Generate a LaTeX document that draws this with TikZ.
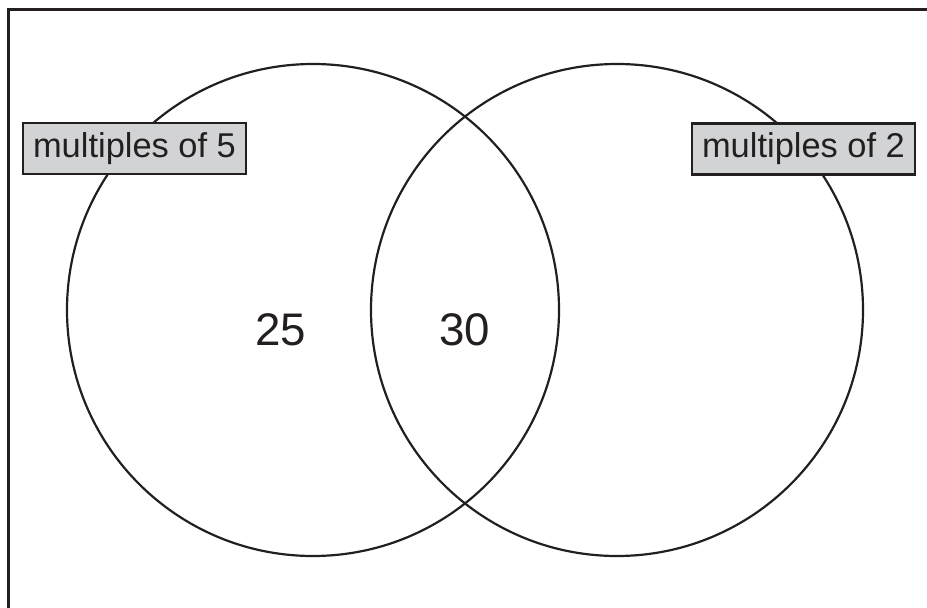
\documentclass[tikz,border=0pt]{standalone}
\usepackage{fontspec}
\setmainfont{Liberation Sans}
\definecolor{inkblack}{RGB}{35,31,32}
\definecolor{labelgray}{RGB}{209,211,212}

\begin{document}
\begin{tikzpicture}[x=0.02cm, y=-0.02cm,
    setlabel/.style={draw=inkblack, line width=1.3pt, fill=labelgray, inner sep=0pt,
      minimum width=4.46cm, minimum height=1.02cm,
      font=\fontsize{19.6}{22}\selectfont, text=inkblack},
    count/.style={font=\fontsize{26}{30}\selectfont, text=inkblack}]
    \useasboundingbox (0,0) rectangle (927,608);
    \clip (0,0) rectangle (927,608);
    % frame, cut off on the right and at the bottom
    \draw[inkblack, line width=1.2pt] (8.5,9.5) rectangle (950,640);

    \draw[inkblack, line width=1.25pt] (313,310) circle (246);
    \draw[inkblack, line width=1.25pt] (617,310) circle (246);

    \node[setlabel] (fives) at (134.5,148.5) {multiples of 5};
    \node[setlabel] (twos) at (803.5,149) {multiples of 2};

    \node[count] (onlyfive) at (281,330) {25};
    \node[count] (both) at (465,330) {30};
\end{tikzpicture}
\end{document}
